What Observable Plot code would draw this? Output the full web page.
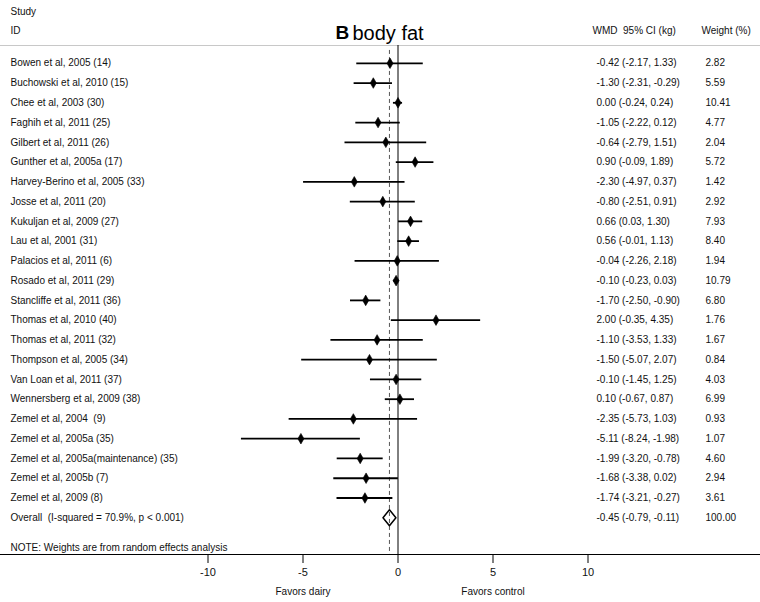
<!DOCTYPE html>
<html><head><meta charset="utf-8">
<script src="https://cdn.jsdelivr.net/npm/d3@7"></script>
<script src="https://cdn.jsdelivr.net/npm/@observablehq/plot@0.6"></script>
<style>body{margin:0;background:#fff;} svg{display:block}</style>
</head><body><div id="chart"></div>
<script>
const studies = [
  "Bowen et al, 2005 (14)",
  "Buchowski et al, 2010 (15)",
  "Chee et al, 2003 (30)",
  "Faghih et al, 2011 (25)",
  "Gilbert et al, 2011 (26)",
  "Gunther et al, 2005a (17)",
  "Harvey-Berino et al, 2005 (33)",
  "Josse et al, 2011 (20)",
  "Kukuljan et al, 2009 (27)",
  "Lau et al, 2001 (31)",
  "Palacios et al, 2011 (6)",
  "Rosado et al, 2011 (29)",
  "Stancliffe et al, 2011 (36)",
  "Thomas et al, 2010 (40)",
  "Thomas et al, 2011 (32)",
  "Thompson et al, 2005 (34)",
  "Van Loan et al, 2011 (37)",
  "Wennersberg et al, 2009 (38)",
  "Zemel et al, 2004  (9)",
  "Zemel et al, 2005a (35)",
  "Zemel et al, 2005a(maintenance) (35)",
  "Zemel et al, 2005b (7)",
  "Zemel et al, 2009 (8)"
];
const estimates = [-0.42,-1.30,0.00,-1.05,-0.64,0.90,-2.30,-0.80,0.66,0.56,-0.04,-0.10,-1.70,2.00,-1.10,-1.50,-0.10,0.10,-2.35,-5.11,-1.99,-1.68,-1.74];
const lower     = [-2.17,-2.31,-0.24,-2.22,-2.79,-0.09,-4.97,-2.51,0.03,-0.01,-2.26,-0.23,-2.50,-0.35,-3.53,-5.07,-1.45,-0.67,-5.73,-8.24,-3.20,-3.38,-3.21];
const upper     = [1.33,-0.29,0.24,0.12,1.51,1.89,0.37,0.91,1.30,1.13,2.18,0.03,-0.90,4.35,1.33,2.07,1.25,0.87,1.03,-1.98,-0.78,0.02,-0.27];
const weights   = [2.82,5.59,10.41,4.77,2.04,5.72,1.42,2.92,7.93,8.40,1.94,10.79,6.80,1.76,1.67,0.84,4.03,6.99,0.93,1.07,4.60,2.94,3.61];

const overallLabel = "Overall  (I-squared = 70.9%, p < 0.001)";
const overallEst = -0.45, overallLo = -0.79, overallHi = -0.11, overallWeight = 100.00;
const noteText = "NOTE: Weights are from random effects analysis";

const xTicks = [-10, -5, 0, 5, 10];
const favorLabels = ["Favors dairy", "Favors control"];
const favorAt = [-5, 5];

const rows = studies.map((s, i) => ({label: s, est: estimates[i], lo: lower[i], hi: upper[i], w: weights[i], row: i}));
const overallRow = {label: overallLabel, est: overallEst, lo: overallLo, hi: overallHi, w: overallWeight, row: rows.length};
const allRows = [...rows, overallRow];
const diamondPts = [
  {x: overallLo, y: overallRow.row},
  {x: overallEst, y: overallRow.row - 0.4},
  {x: overallHi, y: overallRow.row},
  {x: overallEst, y: overallRow.row + 0.4},
  {x: overallLo, y: overallRow.row}
];

const fmt = v => v.toFixed(2);
const yDomain = [-0.9, 24.86];

const chart = Plot.plot({
  width: 760, height: 602,
  marginLeft: 0, marginRight: 0, marginTop: 45, marginBottom: 48,
  style: {fontFamily: "'Liberation Sans', Arial, sans-serif", fontSize: "10px", color: "#111", background: "white"},
  x: {domain: [-397.5 / 19, 362.5 / 19]},
  y: {domain: yDomain, reverse: true, axis: null},
  marks: [
    Plot.ruleY([yDomain[0]], {stroke: "#c8c8c8", strokeWidth: 1}),
    Plot.ruleY([yDomain[1]], {stroke: "#000", strokeWidth: 1}),
    Plot.ruleX([0], {stroke: "#000", strokeWidth: 1}),
    Plot.ruleX([overallEst], {stroke: "#555", strokeDasharray: "4,3", y1: -0.65, y2: yDomain[1]}),
    Plot.ruleY(rows, {y: "row", x1: "lo", x2: "hi", stroke: "#000", strokeWidth: 1.8}),
    Plot.dot(rows, {x: "est", y: "row", symbol: "diamond", r: 3.2, fill: "#000", stroke: "#000", strokeWidth: 0.6}),
    Plot.line(diamondPts, {x: "x", y: "y", stroke: "#000", strokeWidth: 1.5, fill: "none"}),
    Plot.text(allRows, {text: "label", y: "row", frameAnchor: "left", dx: 10, textAnchor: "start"}),
    Plot.text(allRows, {text: d => `${fmt(d.est)} (${fmt(d.lo)}, ${fmt(d.hi)})`, y: "row", frameAnchor: "left", dx: 596, textAnchor: "start"}),
    Plot.text(allRows, {text: d => fmt(d.w), y: "row", frameAnchor: "left", dx: 705, textAnchor: "start"}),
    Plot.text([noteText], {y: 24.5, frameAnchor: "left", dx: 10, textAnchor: "start"}),
    Plot.text(["Study"], {frameAnchor: "top-left", dx: 10, dy: -38, textAnchor: "start"}),
    Plot.text(["ID"], {frameAnchor: "top-left", dx: 10, dy: -19, textAnchor: "start"}),
    Plot.text(["B"], {frameAnchor: "top", dx: -45, dy: -20, textAnchor: "start", fontSize: 19, fontWeight: "bold", fill: "#000"}),
    Plot.text(["body fat"], {frameAnchor: "top", dx: -28, dy: -20, textAnchor: "start", fontSize: 20, fill: "#000"}),
    Plot.text(["WMD  95% CI (kg)"], {frameAnchor: "top-left", dx: 592, dy: -19, textAnchor: "start"}),
    Plot.text(["Weight (%)"], {frameAnchor: "top-left", dx: 701, dy: -19, textAnchor: "start"}),
    Plot.axisX({ticks: xTicks, tickFormat: d => String(d), tickSize: 9, tickPadding: 5, label: null, fontSize: 11, stroke: "#000"}),
    Plot.text(favorLabels, {x: (d, i) => favorAt[i], frameAnchor: "bottom", dy: 40, text: d => d})
  ]
});
document.getElementById("chart").appendChild(chart);
</script>
</body></html>
